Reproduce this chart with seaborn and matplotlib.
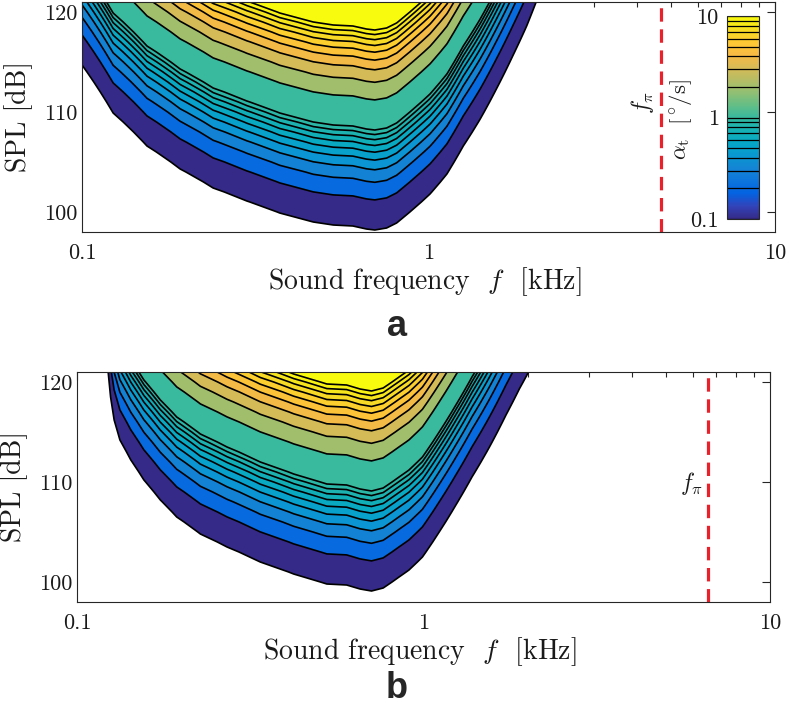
import numpy as np
import matplotlib
matplotlib.use("Agg")
import matplotlib.pyplot as plt
import seaborn as sns
from matplotlib.colors import LinearSegmentedColormap, Normalize
from matplotlib.cm import ScalarMappable
from matplotlib.ticker import LogLocator, NullFormatter, FixedLocator

# SPL [dB] of the lowest contour (alpha_t = 0.1 deg/s)
freq_a = [0.100, 0.123, 0.154, 0.192, 0.239, 0.299, 0.372, 0.465, 0.531, 0.605,
          0.662, 0.700, 0.757, 0.809, 0.904, 1.01, 1.13, 1.26, 1.41, 1.57,
          1.75, 1.92, 2.05]
spl_a = [114.7, 109.9, 106.6, 104.3, 102.4, 101.1, 99.9, 99.0, 98.7, 98.6,
         98.3, 98.2, 98.4, 98.9, 100.3, 101.8, 103.8, 106.6, 109.3, 112.3,
         115.6, 118.6, 121.1]

freq_b = [0.123, 0.125, 0.128, 0.133, 0.143, 0.156, 0.174, 0.194, 0.227, 0.271,
          0.338, 0.422, 0.493, 0.526, 0.600, 0.656, 0.708, 0.765, 0.850, 0.908,
          0.993, 1.11, 1.24, 1.38, 1.55, 1.73, 1.89, 2.01]
spl_b = [121.0, 118.5, 116.2, 114.2, 112.2, 110.2, 108.2, 106.5, 104.8, 103.5,
         102.0, 100.8, 100.1, 99.8, 99.7, 99.3, 99.1, 99.4, 100.5, 101.2,
         102.5, 105.0, 107.7, 110.5, 113.5, 116.7, 119.3, 121.0]

f_pi_a = 4.68
f_pi_b = 6.62

alpha_levels = [0.1, 0.2, 0.3, 0.4, 0.5, 0.6, 0.7, 0.8, 0.9,
                1, 2, 3, 4, 5, 6, 7, 8, 9, 10]
cbar_ticks = [0.1, 1, 10]
cbar_ticklabels = ["0.1", "1", "10"]
x_ticks = [0.1, 1, 10]
x_ticklabels = ["0.1", "1", "10"]
y_ticks = [100, 110, 120]

# MATLAB parula, every 4th entry of the 64-colour table
PARULA = [
    (0.2081, 0.1663, 0.5292), (0.1959, 0.2645, 0.7279), (0.0117, 0.3875, 0.8820),
    (0.0498, 0.4586, 0.8641), (0.0793, 0.5200, 0.8312), (0.0343, 0.5966, 0.8199),
    (0.0228, 0.6535, 0.7768), (0.0843, 0.6928, 0.7062), (0.2178, 0.7250, 0.6193),
    (0.3953, 0.7459, 0.5244), (0.5709, 0.7485, 0.4494), (0.7184, 0.7411, 0.3905),
    (0.8507, 0.7299, 0.3360), (0.9739, 0.7314, 0.2666), (0.9955, 0.7861, 0.1967),
    (0.9626, 0.8705, 0.1309), (0.9763, 0.9831, 0.0538),
]
parula = LinearSegmentedColormap.from_list("parula", PARULA)

sns.set_theme(style="white", rc={
    "axes.edgecolor": "#262626",
    "axes.linewidth": 0.8,
    "xtick.direction": "in",
    "ytick.direction": "in",
    "xtick.top": True,
    "ytick.right": True,
})
plt.rcParams["font.family"] = ["cmr10"]
plt.rcParams["mathtext.fontset"] = "cm"
plt.rcParams["axes.formatter.use_mathtext"] = True

log_levels = np.log10(alpha_levels)
norm = Normalize(-1, 1)
band_colors = [parula(norm(v)) for v in log_levels]
fill_levels = list(log_levels) + [5.0]

W, H = 789, 715
fig = plt.figure(figsize=(W / 100, H / 100), dpi=100)


def px_axes(left, top, right, bottom):
    return fig.add_axes([left / W, 1 - bottom / H, (right - left) / W, (bottom - top) / H])


def draw_panel(ax, freq, spl0, f_pi):
    freq = np.asarray(freq)
    spl0 = np.asarray(spl0)
    spl_grid = np.linspace(95, 125, 31)
    F, S = np.meshgrid(freq, spl_grid)
    # alpha_t grows with the square of the pressure: +10 dB -> x10
    log_alpha = np.log10(0.1) + (S - spl0[None, :]) / 10.0

    ax.set_xscale("log")
    ax.contourf(F, S, log_alpha, levels=fill_levels, colors=band_colors,
                antialiased=True)
    ax.contour(F, S, log_alpha, levels=log_levels, colors="black",
               linewidths=1.2, linestyles="solid")
    ax.axvline(f_pi, color="#e8212b", lw=2.3, dashes=(4.2, 2.4))

    ax.set_xlim(0.1, 10)
    ax.set_ylim(98, 121)
    ax.xaxis.set_major_locator(FixedLocator(x_ticks))
    ax.set_xticklabels(x_ticklabels)
    ax.xaxis.set_minor_locator(LogLocator(base=10, subs=np.arange(2, 10)))
    ax.xaxis.set_minor_formatter(NullFormatter())
    ax.set_yticks(y_ticks)
    ax.set_yticklabels([str(v) for v in y_ticks])
    ax.tick_params(which="major", length=6, width=0.8, color="#262626",
                   labelsize=16, labelcolor="#1a1a1a")
    ax.tick_params(which="minor", length=3.5, width=0.8, color="#262626")
    ax.tick_params(axis="x", which="major", pad=8)
    ax.tick_params(axis="y", which="major", pad=3)

    ax.set_xlabel("Sound frequency  $f$  [kHz]", fontsize=20, color="#1a1a1a")
    ax.set_ylabel("SPL [dB]", fontsize=20, color="#1a1a1a")
    ax.xaxis.set_label_coords(0.495, -0.145)
    ax.yaxis.set_label_coords(-0.071, 0.5)


ax_a = px_axes(82, 2, 775, 232)
draw_panel(ax_a, freq_a, spl_a, f_pi_a)
ax_a.text(4.15, 110.9, r"$f_\pi$", fontsize=17, rotation=90,
          ha="center", va="center", color="#1a1a1a")

ax_b = px_axes(77, 372, 770, 602)
draw_panel(ax_b, freq_b, spl_b, f_pi_b)
ax_b.text(5.93, 109.9, r"$f_\pi$", fontsize=17, ha="center", va="center",
          color="#1a1a1a")

# colour bar sitting inside panel a
cax = px_axes(727, 16, 759, 219)
sm = ScalarMappable(norm=norm, cmap=parula)
cb = fig.colorbar(sm, cax=cax)
cb.set_ticks(np.log10(cbar_ticks))
cb.set_ticklabels(cbar_ticklabels)
cax.yaxis.set_ticks_position("left")
cax.yaxis.set_label_position("left")
cax.tick_params(length=0, pad=6, labelsize=16, labelcolor="#1a1a1a")
cax.hlines(log_levels, 0, 1, colors="black", linewidth=0.9)
cb.outline.set_edgecolor("#262626")
cb.outline.set_linewidth(0.8)
cb.set_label(r"$\alpha_\mathrm{t}\ \ [^\circ\!/\mathrm{s}]$", fontsize=16.5, color="#1a1a1a")
cax.yaxis.set_label_coords(-1.03, 0.49)

fig.text(397 / W, 1 - 327 / H, "a", fontsize=26, fontweight="bold",
         family="Liberation Sans", ha="center", va="center")
fig.text(397 / W, 1 - 688 / H, "b", fontsize=26, fontweight="bold",
         family="Liberation Sans", ha="center", va="center")

fig.savefig("out.png", dpi=100)
